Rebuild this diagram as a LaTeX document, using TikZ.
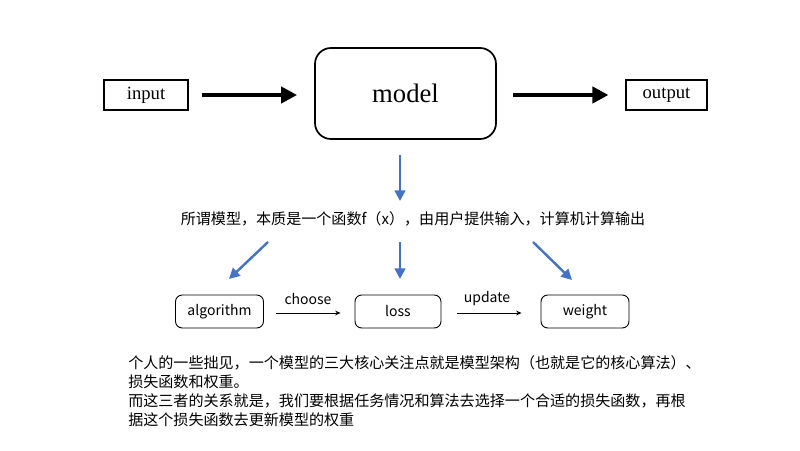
\documentclass[tikz,border=0pt]{standalone}
\usepackage{fontspec}
\setmainfont{Liberation Serif}
\newfontfamily\cjk{Noto Sans CJK SC}
\usetikzlibrary{arrows.meta,calc}
\definecolor{ablue}{HTML}{4472C4}
\begin{document}
\begin{tikzpicture}[x=0.75pt,y=-0.75pt,
  sqbox/.style={draw,line width=0.8pt,minimum width=63pt,minimum height=22.5pt,inner sep=0pt,font=\fontsize{14pt}{16pt}\selectfont},
  bigbox/.style={draw,line width=1.3pt,rounded corners=12pt,minimum width=135.75pt,minimum height=68.25pt,inner sep=0pt,font=\fontsize{20pt}{24pt}\selectfont},
  rbox/.style={draw,line width=0.7pt,rounded corners=5pt,minimum width=66pt,minimum height=24.75pt,inner sep=0pt,font=\cjk\fontsize{10.5pt}{12pt}\selectfont},
  fatarrow/.style={line width=3.6pt,-{Triangle[length=12pt,width=12pt]}},
  bluearrow/.style={ablue,line width=1.8pt,-{Triangle[length=8pt,width=8pt]}},
  thinarrow/.style={line width=0.6pt,-{Stealth[length=4pt,width=3.5pt]}},
  cjktext/.style={font=\cjk\fontsize{11.3pt}{14pt}\selectfont,inner sep=0pt},
  lbl/.style={font=\cjk\fontsize{10.5pt}{12pt}\selectfont,inner sep=0pt}
]
\useasboundingbox[fill=white] (0,0) rectangle (800,450);
% top row
\node[sqbox] (input) at (146,95) {\raisebox{-1.2pt}{input}};
\node[bigbox] (model) at (405.5,93.5) {model};
\node[sqbox,minimum width=60.75pt] (output) at (666.5,95) {\raisebox{-1.2pt}{output}};
\draw[fatarrow] ($(input.east)+(13,0)$) coordinate (a1s) -- ($(model.west |- input.east)+(-17,0)$) coordinate (a1e);
\draw[fatarrow] ($(model.east |- output.west)+(16,0)$) coordinate (a2s) -- ($(output.west)+(-17,0)$) coordinate (a2e);
% description
\node[cjktext] (desc) at (413,219) {所谓模型，本质是一个函数f（x），由用户提供输入，计算机计算输出};
\coordinate (m1) at (400,155);
\coordinate (m2) at (400,201);
\draw[bluearrow] (m1) -- (m2);
% bottom row
\node[rbox] (alg) at (219.5,311.5) {algorithm};
\node[rbox,minimum width=64.5pt] (loss) at (398,311.5) {loss};
\node[rbox] (weight) at (585,311.5) {weight};
\coordinate (b1s) at (268,242); \coordinate (b1e) at (229,279);
\coordinate (b2s) at (400,242); \coordinate (b2e) at (400,279);
\coordinate (b3s) at (533,242); \coordinate (b3e) at (572,280);
\draw[bluearrow] (b1s) -- (b1e);
\draw[bluearrow] (b2s) -- (b2e);
\draw[bluearrow] (b3s) -- (b3e);
\draw[thinarrow] ($(alg.east)+(12,1.5)$) coordinate (c1s) -- ($(loss.west)+(-14,1.5)$) coordinate (c1e);
\node[lbl] (choose) at (308,299) {choose};
\draw[thinarrow] ($(loss.east)+(16,1.5)$) coordinate (c2s) -- ($(weight.west)+(-19,1.5)$) coordinate (c2e);
\node[lbl] (update) at (487,299) {update};
% notes
\node[cjktext,anchor=west] (n1) at (128,363) {个人的一些拙见，一个模型的三大核心关注点就是模型架构（也就是它的核心算法）、};
\node[cjktext,anchor=west] (n2) at (128,382) {损失函数和权重。};
\node[cjktext,anchor=west] (n3) at (128,401) {而这三者的关系就是，我们要根据任务情况和算法去选择一个合适的损失函数，再根};
\node[cjktext,anchor=west] (n4) at (128,420) {据这个损失函数去更新模型的权重};
\end{tikzpicture}
\end{document}
